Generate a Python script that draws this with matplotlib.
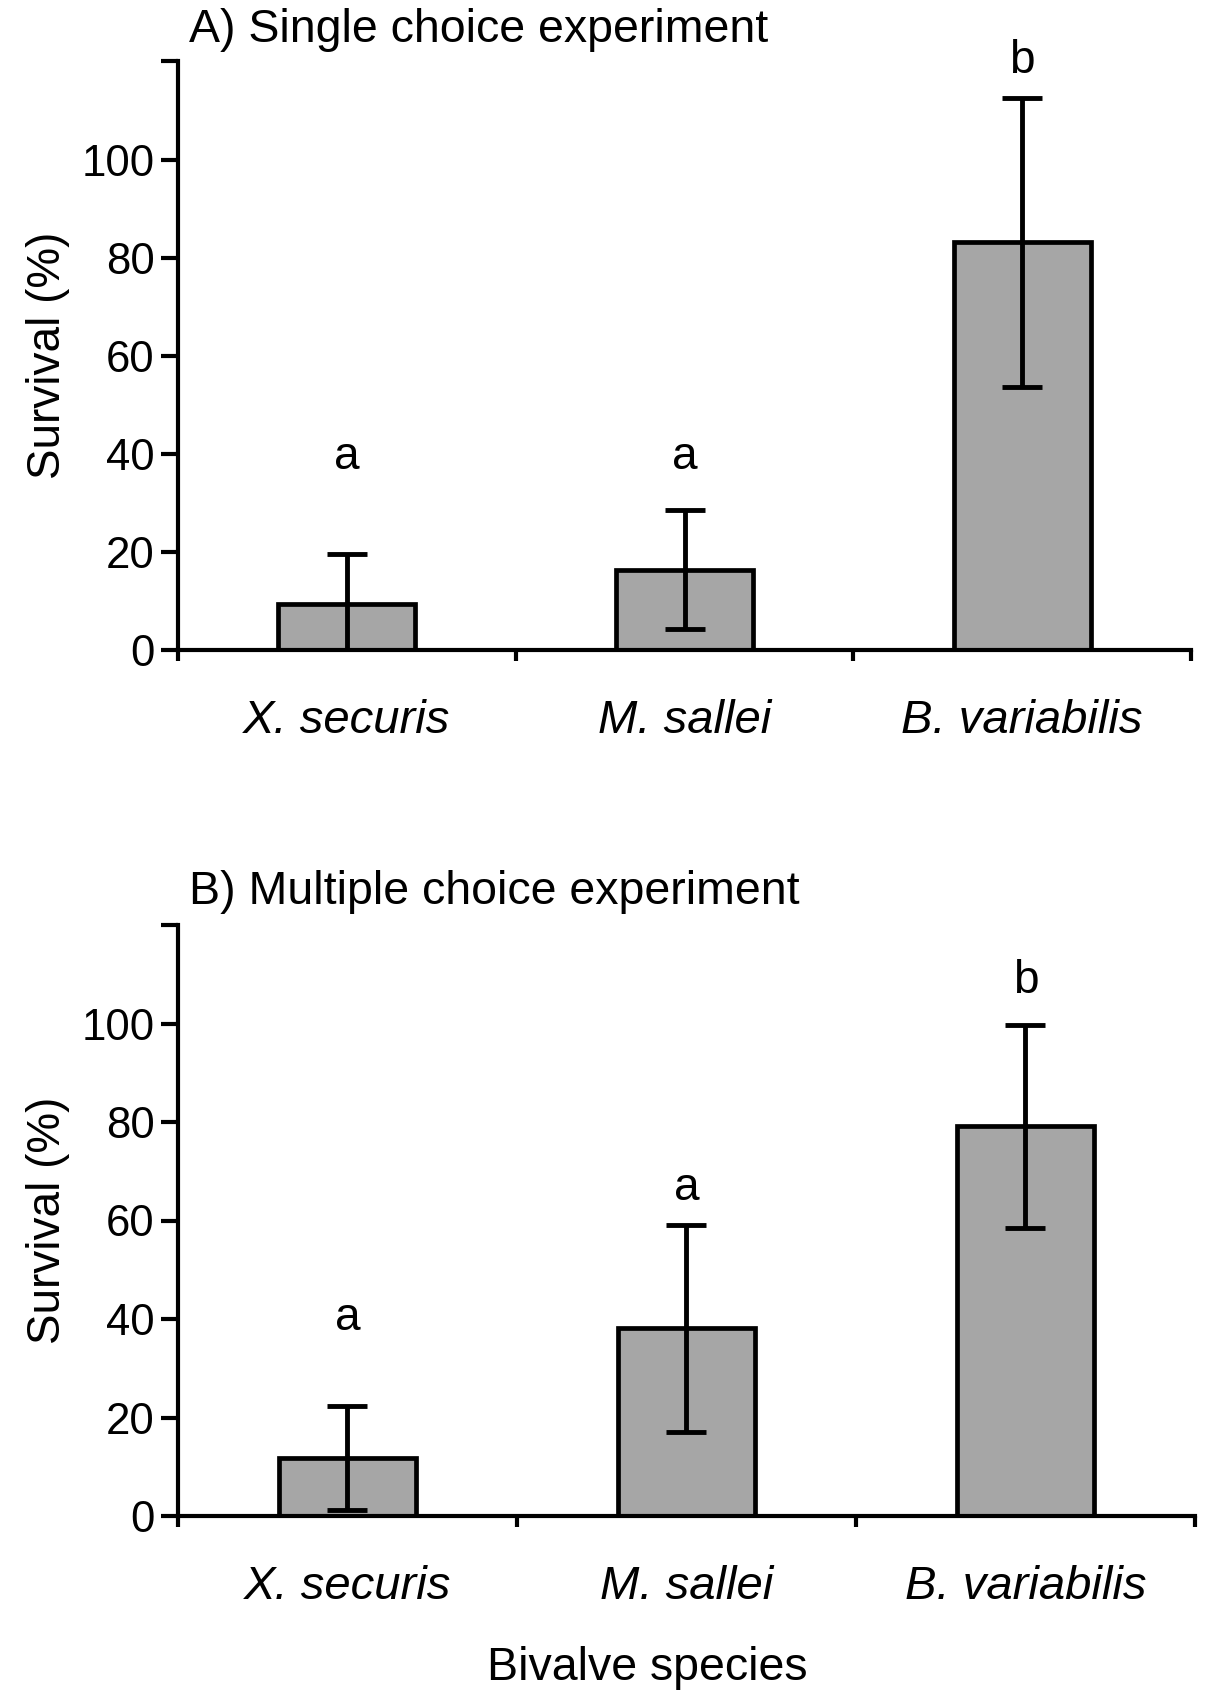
import matplotlib
matplotlib.use("Agg")
import matplotlib.pyplot as plt
import numpy as np

plt.rcParams['font.family'] = ['Liberation Sans', 'DejaVu Sans']

species = ["X. securis", "M. sallei", "B. variabilis"]
single_mean = [9.4, 16.4, 83.1]
single_err = [10.2, 12.1, 29.5]
single_letters = ["a", "a", "b"]
single_letter_y = [39.4, 39.4, 120.2]

multi_mean = [11.8, 38.1, 79.1]
multi_err = [10.6, 21.0, 20.6]
multi_letters = ["a", "a", "b"]
multi_letter_y = [40.3, 66.5, 108.7]

yticks = [0, 20, 40, 60, 80, 100, 120]
ytick_labels = ["0", "20", "40", "60", "80", "100", ""]

W, H = 1209, 1692
fig = plt.figure(figsize=(W / 100, H / 100), dpi=100)

def px_axes(l, t, r, b):
    return fig.add_axes([l / W, 1 - b / H, (r - l) / W, (b - t) / H])

axA = px_axes(178, 61.5, 1191, 650)
axB = px_axes(178, 925, 1195, 1516)

def draw(ax, means, errs, letters, letter_y):
    x = np.arange(len(means)) + 0.5
    lower = [min(e, m) for m, e in zip(means, errs)]
    ax.bar(x, means, width=0.405, color="#a6a6a6", edgecolor="black",
           linewidth=3.4, zorder=2)
    ax.errorbar(x, means, yerr=[lower, errs], fmt="none", ecolor="black",
                elinewidth=3.5, capsize=14.5, capthick=3.5, zorder=3)
    for xi, lt, ly in zip(x, letters, letter_y):
        ax.text(xi, ly, lt, ha="center", va="center", fontsize=33, zorder=4)
    ax.set_xlim(0, 3)
    ax.set_ylim(0, 120)
    for s in ["top", "right"]:
        ax.spines[s].set_visible(False)
    for s in ["left", "bottom"]:
        ax.spines[s].set_linewidth(3.0)
    ax.set_yticks(yticks)
    ax.set_yticklabels(ytick_labels)
    ax.tick_params(axis="y", direction="out", length=12, width=3.0,
                   labelsize=31.5, pad=5)
    ax.set_xticks([0, 1, 2, 3])
    ax.set_xticklabels([])
    ax.tick_params(axis="x", which="major", direction="out", length=8, width=3.0)
    ax.set_xticks(x, minor=True)
    ax.set_xticklabels(species, minor=True, fontstyle="italic", fontsize=34)
    ax.tick_params(axis="x", which="minor", length=0, pad=35)
    ax.set_ylabel("Survival (%)", fontsize=33, labelpad=8)
    ax.patch.set_alpha(0)

draw(axA, single_mean, single_err, single_letters, single_letter_y)
draw(axB, multi_mean, multi_err, multi_letters, multi_letter_y)

fig.text(189 / W, 1 - 30 / H, "A) Single choice experiment", ha="left",
         va="center", fontsize=33.5)
fig.text(189 / W, 1 - 892 / H, "B) Multiple choice experiment", ha="left",
         va="center", fontsize=33.5)
fig.text(647 / W, 1 - 1668 / H, "Bivalve species", ha="center",
         va="center", fontsize=33.5)

fig.savefig("out.png", dpi=100, facecolor="white")
